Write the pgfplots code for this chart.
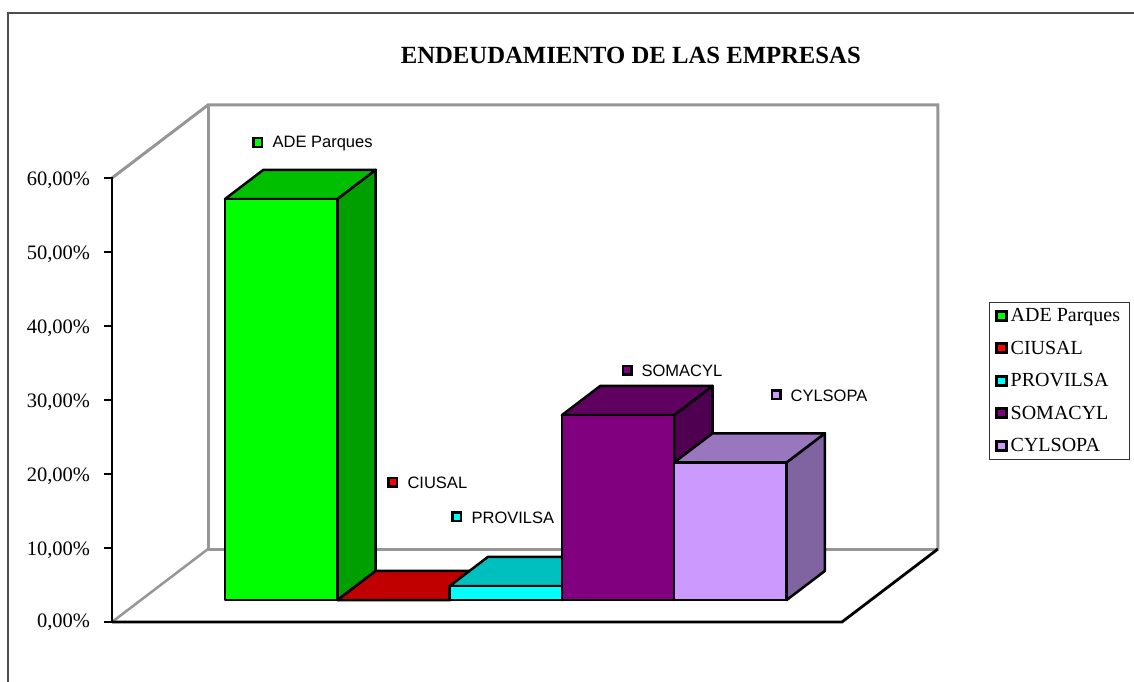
\documentclass[border=0pt]{standalone}
\usepackage{pgfplots}
\pgfplotsset{compat=1.18}
\usepackage{fontspec}
\setmainfont{Liberation Serif}
\newfontfamily\arial{Liberation Sans}

\definecolor{wallgray}{HTML}{969696}
\definecolor{adefront}{HTML}{00FF00}\definecolor{adetop}{HTML}{00BF00}\definecolor{adeside}{HTML}{009F00}
\definecolor{ciufront}{HTML}{FF0000}\definecolor{ciutop}{HTML}{C00000}\definecolor{ciuside}{HTML}{9F0000}
\definecolor{profront}{HTML}{00FFFF}\definecolor{protop}{HTML}{00BFBF}\definecolor{proside}{HTML}{009F9F}
\definecolor{somfront}{HTML}{800080}\definecolor{somtop}{HTML}{600060}\definecolor{somside}{HTML}{500050}
\definecolor{cylfront}{HTML}{CC99FF}\definecolor{cyltop}{HTML}{9977BF}\definecolor{cylside}{HTML}{8064A2}

% small keys of the data labels and of the legend
\pgfdeclareplotmark{labelkey}{\pgfsetlinewidth{2.2pt}\pgfpathrectangle{\pgfpoint{-4.4pt}{-4.4pt}}{\pgfpoint{8.8pt}{8.8pt}}\pgfusepathqfillstroke}
\pgfdeclareplotmark{legkey}{\pgfsetlinewidth{3pt}\pgfpathrectangle{\pgfpoint{-4.5pt}{-4.5pt}}{\pgfpoint{10pt}{9pt}}\pgfusepathqfillstroke}

% one 3D bar: x from, x to, value, colour prefix
\newcommand{\bartd}[4]{%
  \addplot3[forget plot,draw=black,line width=2.5pt,line join=round,fill=#4side] coordinates {(#2,0.3,0) (#2,0.7,0) (#2,0.7,#3) (#2,0.3,#3)} -- cycle;
  \addplot3[forget plot,draw=black,line width=2.5pt,line join=round,fill=#4top] coordinates {(#1,0.3,#3) (#2,0.3,#3) (#2,0.7,#3) (#1,0.7,#3)} -- cycle;
  \addplot3[forget plot,draw=black,line width=2.5pt,line join=round,fill=#4front] coordinates {(#1,0.3,0) (#2,0.3,0) (#2,0.3,#3) (#1,0.3,#3)} -- cycle;
}
% data label with its small key
\newcommand{\datalabel}[4]{%
  \addplot3[forget plot,only marks,mark=labelkey,
    mark options={draw=black,fill=#4front},
    nodes near coords={#1},
    nodes near coords style={anchor=west,xshift=11.5pt,yshift=-1pt,font=\fontsize{16.5}{18}\selectfont\arial,text=black,inner sep=2pt}]
    coordinates {(#2,0,#3)};
}
\newcommand{\legendkey}[2]{%
  \addlegendimage{only marks,mark=legkey,mark options={draw=black,fill=#1front}}
  \addlegendentry{\hspace{2pt}#2}
}

\begin{document}
\begin{tikzpicture}
  \useasboundingbox (-112pt,-59pt) rectangle (1022pt,622pt);
  \draw[black!70,line width=1.2pt] (1023pt,609pt) -- (-104pt,609pt) -- (-104pt,-60pt);
  \begin{axis}[
    at={(0pt,0pt)}, anchor=origin,
    x={(112.3pt,0pt)}, y={(96pt,73pt)}, z={(0pt,7.4pt)},
    xmin=0, xmax=6.5, ymin=0, ymax=1, zmin=0, zmax=60,
    clip=false,
    axis z line*=left, axis x line=none, axis y line=none,
    xtick=\empty, ytick=\empty,
    ztick={0,10,20,30,40,50,60},
    zticklabels={{0,00\%},{10,00\%},{20,00\%},{30,00\%},{40,00\%},{50,00\%},{60,00\%}},
    z axis line style={draw=none},
    major tick length=0pt,
    tick style={draw=none},
    z tick label style={font=\fontsize{20.5}{24}\selectfont,xshift=-18.5pt,yshift=9.5pt},
    legend style={at={(1.12,0.42)},anchor=west,xshift=-48pt,yshift=24pt,draw=black!80,line width=1.2pt,
      font=\fontsize{20}{24}\selectfont,row sep=13.7pt,inner xsep=7pt,inner ysep=4.5pt},
    legend cell align=left,
  ]
    % walls and floor
    \addplot3[forget plot,wallgray,line width=3pt] coordinates {(0,0,60) (0,1,60) (6.5,1,60) (6.5,1,0)};
    \addplot3[forget plot,wallgray,line width=3pt] coordinates {(0,1,60) (0,1,0) (6.5,1,0)};
    \addplot3[forget plot,wallgray,line width=2.5pt] coordinates {(0,0,0) (0,1,0)};
    \addplot3[forget plot,black,line width=2.8pt] coordinates {(6.5,1,0) (6.5,0,0) (0,0,0)};
    % z axis line, thick, and its ticks, horizontal to the left
    \addplot3[forget plot,black,line width=2.8pt] coordinates {(0,0,0) (0,0,60)};
    \addplot3[forget plot,black,line width=1.6pt,line join=miter] coordinates {
      (-0.07,0,0) (0,0,0) (0,0,10) (-0.07,0,10) (0,0,10) (0,0,20) (-0.07,0,20) (0,0,20)
      (0,0,30) (-0.07,0,30) (0,0,30) (0,0,40) (-0.07,0,40) (0,0,40) (0,0,50) (-0.07,0,50)
      (0,0,50) (0,0,60) (-0.07,0,60)};

    % bars
    \bartd{0.75}{1.75}{54.2}{ade}
    \bartd{1.75}{2.75}{0}{ciu}
    \bartd{2.75}{3.75}{1.9}{pro}
    \bartd{3.75}{4.75}{25.0}{som}
    \bartd{4.75}{5.75}{18.6}{cyl}

    \datalabel{ADE Parques}{1.30}{64.8}{ade}
    \datalabel{CIUSAL}{2.502}{18.9}{ciu}
    \datalabel{PROVILSA}{3.072}{14.2}{pro}
    \datalabel{SOMACYL}{4.586}{34.05}{som}
    \datalabel{CYLSOPA}{5.913}{30.7}{cyl}

    \node[font=\fontsize{24.7}{28}\selectfont\bfseries] at (axis cs:4.62,0,76.6) {ENDEUDAMIENTO DE LAS EMPRESAS};

    \legendkey{ade}{ADE Parques}
    \legendkey{ciu}{CIUSAL}
    \legendkey{pro}{PROVILSA}
    \legendkey{som}{SOMACYL}
    \legendkey{cyl}{CYLSOPA}
  \end{axis}
\end{tikzpicture}
\end{document}
